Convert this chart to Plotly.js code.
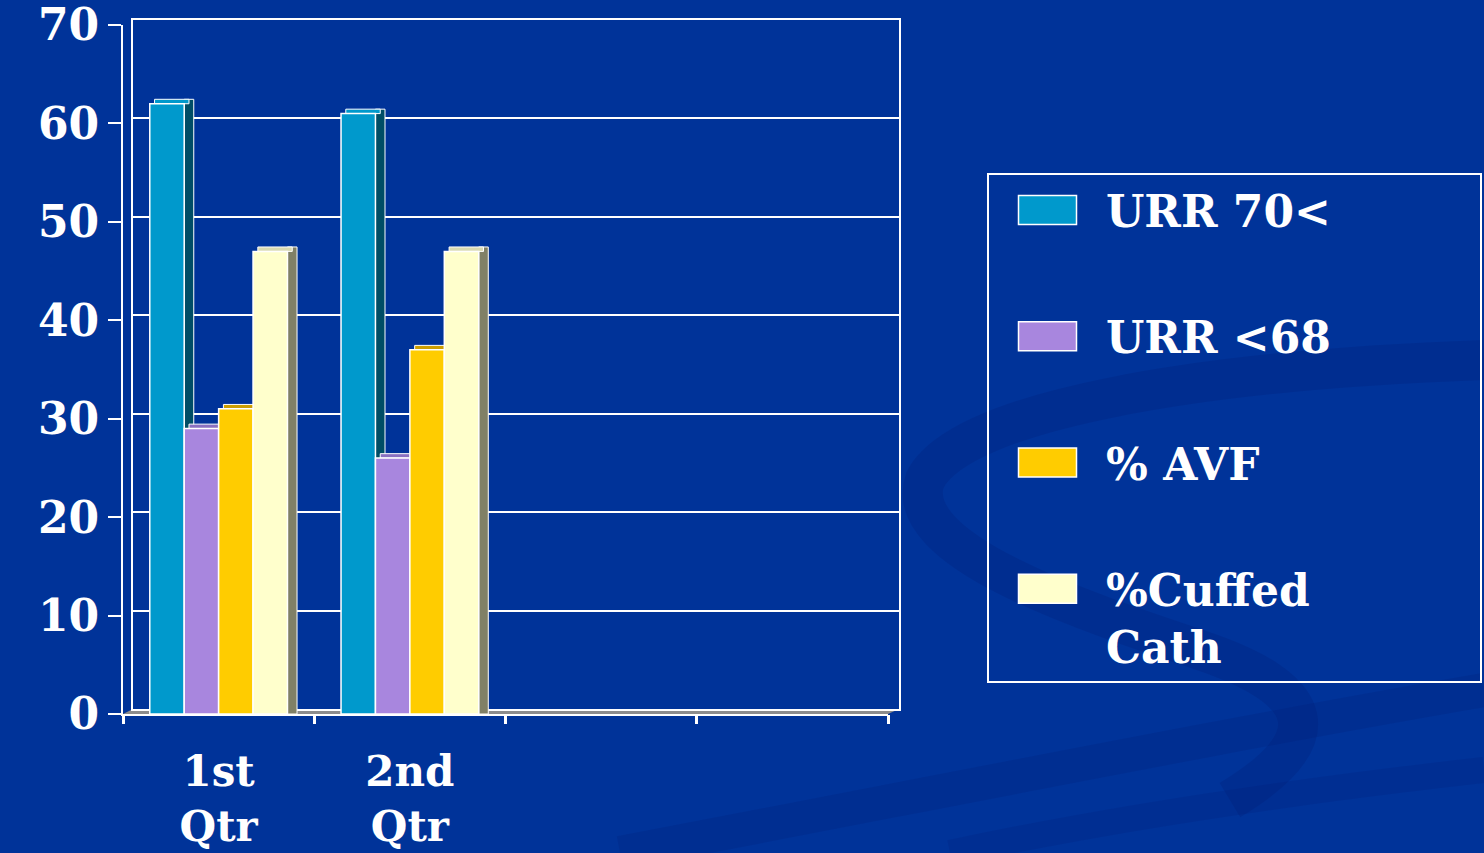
<!DOCTYPE html>
<html><head><meta charset="utf-8">
<script src="https://cdn.plot.ly/plotly-3.0.1.min.js"></script>
<style>html,body{margin:0;padding:0;background:#003399;} #chart{width:1484px;height:853px;}</style>
</head><body><div id="chart"></div>
<script>
// ---- data ----
const categories = ['1st<br>Qtr', '2nd<br>Qtr'];
const slotBoundaries = [-0.5, 0.5, 1.5, 2.5, 3.5];
const seriesNames = ['URR 70<', 'URR <68', '% AVF', '%Cuffed<br>Cath'];
const urr70 = [62, 61];
const urrUnder68 = [29, 26];
const avf = [31, 37];
const cuffedCath = [47, 47];
const yTicks = [0, 10, 20, 30, 40, 50, 60, 70];

// ---- styles ----
const frontColors = ['#0099CC', '#A886DE', '#FFCC00', '#FFFFCC'];
const sideColors  = ['#004D66', '#6E5A99', '#B38F00', '#808066'];
const topColors   = ['#0099CC', '#8A70C0', '#CC9E00', '#D9D9B0'];
const offsets = [-0.36, -0.18, 0, 0.18];
const barW = 0.18, depth = 0.05, rise = 0.45;
const W = 1484, H = 853;
const FONT = 'DejaVu Serif';

const seriesValues = [urr70, urrUnder68, avf, cuffedCath];
const xIdx = categories.map((_, i) => i);

const data = [{type: 'scatter', x: [], y: [], xaxis: 'x', yaxis: 'y', showlegend: false, hoverinfo: 'skip'}];
seriesValues.forEach((vals, s) => {
  data.push({
    type: 'bar', x: xIdx, y: vals.map(v => v + rise), base: 0,
    offset: offsets[s] + barW, width: depth,
    marker: {color: sideColors[s], line: {color: '#fff', width: 1}},
    xaxis: 'x2', yaxis: 'y2', showlegend: false, hoverinfo: 'skip'
  });
  data.push({
    type: 'bar', x: xIdx, y: vals.map(() => rise), base: vals,
    offset: offsets[s] + depth / 2, width: barW,
    marker: {color: topColors[s], line: {color: '#fff', width: 1}},
    xaxis: 'x2', yaxis: 'y2', showlegend: false, hoverinfo: 'skip'
  });
  data.push({
    type: 'bar', x: xIdx, y: vals, name: seriesNames[s], legendgroup: 'g' + s,
    offset: offsets[s], width: barW,
    marker: {color: frontColors[s], line: {color: '#fff', width: 1.5}},
    xaxis: 'x2', yaxis: 'y2'
  });
});
data.push({type: 'scatter', x: [], y: [], xaxis: 'x3', yaxis: 'y2', showlegend: false, hoverinfo: 'skip'});

const px = x => (x / W).toFixed(4), py = y => (1 - y / H).toFixed(4);
const P = (pts) => 'M' + pts.map(p => px(p[0]) + ',' + py(p[1])).join(' L') + ' Z';
const curve = (pts) => 'M' + px(pts[0][0]) + ',' + py(pts[0][1]) + pts.slice(1).map((p, i) => (i % 3 === 0 ? ' C' : ' ') + px(p[0]) + ',' + py(p[1])).join('');

const shapes = [
  {type: 'path', xref: 'paper', yref: 'paper', layer: 'below',
   path: curve([[1484, 360], [1200, 370], [960, 410], [925, 480], [900, 550], [1080, 610], [1200, 650], [1320, 690], [1330, 740], [1230, 800]]),
   line: {color: 'rgba(0,25,110,0.2)', width: 40}},
  {type: 'path', xref: 'paper', yref: 'paper', layer: 'below',
   path: curve([[620, 853], [950, 790], [1250, 730], [1484, 690]]),
   line: {color: 'rgba(0,25,110,0.18)', width: 34}},
  {type: 'path', xref: 'paper', yref: 'paper', layer: 'below',
   path: curve([[950, 853], [1150, 810], [1350, 785], [1484, 770]]),
   line: {color: 'rgba(0,25,110,0.16)', width: 26}},
  {type: 'path', xref: 'paper', yref: 'paper', layer: 'below',
   path: P([[123, 714], [133, 709], [899, 709], [888, 714]]),
   fillcolor: '#8C8C8C', line: {width: 0}}
];

const layout = {
  width: W, height: H,
  paper_bgcolor: '#003399', plot_bgcolor: 'rgba(0,0,0,0)',
  margin: {l: 0, r: 0, t: 0, b: 0},
  barmode: 'overlay',
  font: {family: FONT, color: '#ffffff', size: 42, weight: 'bold'},
  showlegend: true,
  xaxis: {domain: [133 / W, 899 / W], range: [0, 1], anchor: 'y', showline: true, mirror: true,
          linecolor: '#fff', linewidth: 2, showgrid: false, zeroline: false, ticks: '', showticklabels: false, fixedrange: true},
  yaxis: {domain: [(H - 709) / H, (H - 20) / H], range: [0, 70], anchor: 'x', showline: true, mirror: true,
          linecolor: '#fff', linewidth: 2, showgrid: true, gridcolor: '#fff', gridwidth: 2, tickvals: yTicks,
          ticks: '', showticklabels: false, zeroline: false, fixedrange: true},
  xaxis2: {domain: [123 / W, 888 / W], range: [-0.5, 3.5], anchor: 'y2', showline: true, linecolor: '#fff', linewidth: 2,
           tickvals: xIdx, ticktext: categories, ticks: '', showgrid: false, zeroline: false, fixedrange: true,
           ticklabelstandoff: 20, ticklabeloverflow: 'allow',
           tickfont: {family: FONT, size: 42, color: '#fff', weight: 'bold'}},
  yaxis2: {domain: [(H - 714) / H, (H - 25) / H], range: [0, 70], anchor: 'x2', showline: true, linecolor: '#fff', linewidth: 2,
           tickvals: yTicks, ticks: 'outside', ticklen: 13, tickwidth: 2, tickcolor: '#fff', showgrid: false, zeroline: false,
           fixedrange: true, ticklabeloverflow: 'allow',
           tickfont: {family: FONT, size: 44, color: '#fff', weight: 'bold'}},
  xaxis3: {overlaying: 'x2', anchor: 'y2', range: [-0.5, 3.5], tickvals: slotBoundaries, ticks: 'outside', ticklen: 9,
           tickwidth: 3, tickcolor: '#fff', showticklabels: false, showline: false, showgrid: false, zeroline: false, fixedrange: true},
  legend: {x: 987 / W, y: 1 - 173 / H, xanchor: 'left', yanchor: 'top', bgcolor: 'rgba(0,0,0,0)',
           bordercolor: '#fff', borderwidth: 2, font: {family: FONT, size: 44, color: '#fff', weight: 'bold'},
           tracegroupgap: 66, valign: 'top', itemwidth: 107, traceorder: 'grouped'},
  shapes: shapes
};

Plotly.newPlot('chart', data, layout, {staticPlot: true}).then(gd => {
  gd.querySelectorAll('.legend .legendpoints path').forEach(p => {
    p.setAttribute('d', 'M29,14.5H-29V-14.5H29Z');
  });
  const bg = gd.querySelector('.legend rect.bg');
  if (bg) {
    const box = gd.querySelector('.legend').getBoundingClientRect();
    bg.setAttribute('width', String(W - 3 - box.left));
  }
});
</script>
</body></html>
